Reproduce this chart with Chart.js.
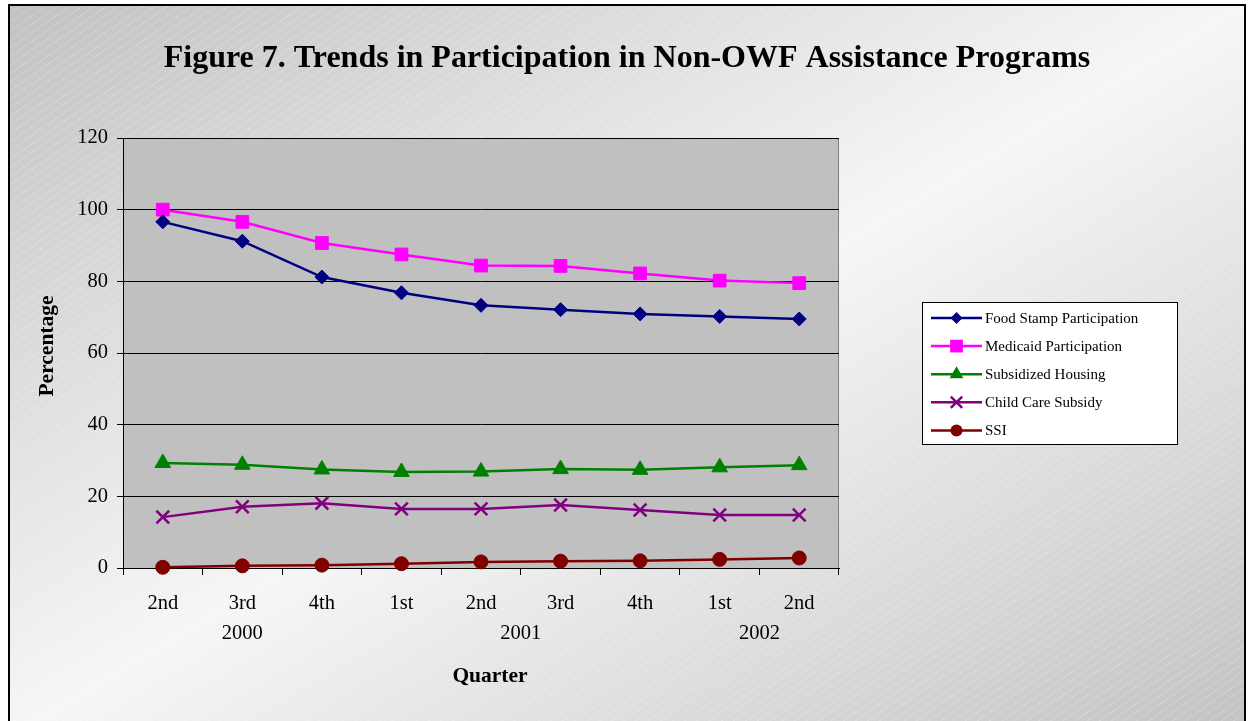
<!DOCTYPE html>
<html>
<head>
<meta charset="utf-8">
<script src="https://cdn.jsdelivr.net/npm/chart.js@4/dist/chart.umd.min.js"></script>
<style>
  html, body { margin: 0; padding: 0; width: 1248px; height: 721px; overflow: hidden; background: #ffffff; }
  #frame {
    position: absolute; left: 8px; top: 4px; width: 1234px; height: 730px;
    border: 2px solid #000;
    background:
      repeating-linear-gradient(145deg, rgba(255,255,255,0) 0px, rgba(255,255,255,0) 6px, rgba(255,255,255,0.18) 6px, rgba(255,255,255,0.18) 7px),
      linear-gradient(to bottom right, #c2c2c2 0%, #f6f6f6 50%, #c2c2c2 100%);
  }
  #chart { position: absolute; left: 0; top: 0; }
</style>
</head>
<body>
<div id="frame"></div>
<canvas id="chart" width="1248" height="721"></canvas>
<script>
// Quarterly participation rates (%) by program
const quarters = ['2nd', '3rd', '4th', '1st', '2nd', '3rd', '4th', '1st', '2nd'];
const years = ['2000', '2001', '2002'];
const quartersPerYear = [3, 4, 2];
const yTicks = [0, 20, 40, 60, 80, 100, 120];

const foodStamp = [96.6, 91.2, 81.2, 76.8, 73.3, 72.1, 70.9, 70.2, 69.5];
const medicaid  = [100.0, 96.6, 90.7, 87.5, 84.4, 84.3, 82.2, 80.2, 79.5];
const housing   = [29.3, 28.8, 27.5, 26.8, 26.9, 27.6, 27.4, 28.1, 28.7];
const childCare = [14.2, 17.1, 18.1, 16.5, 16.5, 17.6, 16.2, 14.8, 14.8];
const ssi       = [0.2, 0.6, 0.8, 1.2, 1.7, 1.9, 2.0, 2.4, 2.8];

const titleText = 'Figure 7. Trends in Participation in Non-OWF Assistance Programs';
const yTitle = 'Percentage';
const xTitle = 'Quarter';

const SERIF = "'Liberation Serif', 'Times New Roman', serif";

function series(label, data, color, shape, radius) {
  return {
    label, data,
    borderColor: color, backgroundColor: color,
    pointStyle: shape, pointRadius: radius, pointHoverRadius: radius,
    pointBorderColor: color, pointBackgroundColor: color,
    pointBorderWidth: shape === 'crossRot' ? 2.5 : 1,
    borderWidth: 2.5, tension: 0, fill: false, clip: false
  };
}

const datasets = [
  series('Food Stamp Participation', foodStamp, '#000080', 'rectRot', 7),
  series('Medicaid Participation', medicaid, '#FF00FF', 'rect', 9),
  series('Subsidized Housing', housing, '#008000', 'triangle', 9),
  series('Child Care Subsidy', childCare, '#800080', 'crossRot', 9),
  series('SSI', ssi, '#800000', 'circle', 7)
];

function marker(ctx, shape, x, y, r, color) {
  ctx.save();
  ctx.fillStyle = color; ctx.strokeStyle = color;
  ctx.beginPath();
  if (shape === 'rectRot') {
    ctx.moveTo(x, y - r); ctx.lineTo(x + r, y); ctx.lineTo(x, y + r); ctx.lineTo(x - r, y); ctx.closePath(); ctx.fill();
  } else if (shape === 'rect') {
    const s = r * Math.SQRT1_2;
    ctx.rect(x - s, y - s, 2 * s, 2 * s); ctx.fill();
  } else if (shape === 'triangle') {
    ctx.moveTo(x, y - r); ctx.lineTo(x + r * 0.866, y + r * 0.5); ctx.lineTo(x - r * 0.866, y + r * 0.5); ctx.closePath(); ctx.fill();
  } else if (shape === 'crossRot') {
    const s = r * Math.SQRT1_2;
    ctx.lineWidth = 2.5;
    ctx.moveTo(x - s, y - s); ctx.lineTo(x + s, y + s);
    ctx.moveTo(x + s, y - s); ctx.lineTo(x - s, y + s); ctx.stroke();
  } else {
    ctx.arc(x, y, r, 0, Math.PI * 2); ctx.fill();
  }
  ctx.restore();
}

const decorations = {
  id: 'decorations',
  beforeDraw(chart) {
    const { ctx, chartArea: a } = chart;
    ctx.save();
    ctx.fillStyle = '#C0C0C0';
    ctx.fillRect(a.left, a.top, a.right - a.left, a.bottom - a.top);
    ctx.strokeStyle = '#808080';
    ctx.lineWidth = 1;
    ctx.strokeRect(a.left + 0.5, a.top + 0.5, a.right - a.left - 1, a.bottom - a.top);
    ctx.restore();
  },
  afterDraw(chart) {
    const { ctx, chartArea: a } = chart;
    const xs = chart.scales.x;
    ctx.save();
    ctx.fillStyle = '#000';
    ctx.textAlign = 'center';

    // title
    ctx.textBaseline = 'alphabetic';
    ctx.font = 'bold 32px ' + SERIF;
    ctx.fillText(titleText, 627, 67);

    ctx.textBaseline = 'middle';
    // axis titles
    ctx.font = 'bold 21.5px ' + SERIF;
    ctx.fillText(xTitle, 490, 676);
    ctx.save();
    ctx.translate(47, 346);
    ctx.rotate(-Math.PI / 2);
    ctx.fillText(yTitle, 0, 0);
    ctx.restore();

    // year group labels under the quarters
    ctx.font = '20.5px ' + SERIF;
    let start = 0;
    years.forEach((yr, i) => {
      const end = start + quartersPerYear[i] - 1;
      const cx = (xs.getPixelForValue(start) + xs.getPixelForValue(end)) / 2;
      ctx.fillText(yr, cx, 634);
      start = end + 1;
    });

    // legend
    const lx = 922, ly = 302, lw = 255, lh = 142;
    ctx.fillStyle = '#ffffff';
    ctx.fillRect(lx, ly, lw, lh);
    ctx.strokeStyle = '#000';
    ctx.lineWidth = 1;
    ctx.strokeRect(lx + 0.5, ly + 0.5, lw, lh);
    ctx.font = '15px ' + SERIF;
    ctx.textAlign = 'left';
    chart.data.datasets.forEach((ds, i) => {
      const y = 318 + i * 28.1;
      ctx.strokeStyle = ds.borderColor;
      ctx.lineWidth = 2.5;
      ctx.beginPath();
      ctx.moveTo(931, y); ctx.lineTo(982, y);
      ctx.stroke();
      const r = ds.pointStyle === 'rect' ? 9 : ds.pointStyle === 'triangle' ? 8 : ds.pointStyle === 'crossRot' ? 8 : 6;
      marker(ctx, ds.pointStyle, 956.5, y, r, ds.borderColor);
      ctx.fillStyle = '#000';
      ctx.fillText(ds.label, 985, y + 1);
    });
    ctx.restore();
  }
};

new Chart(document.getElementById('chart'), {
  type: 'line',
  data: { labels: quarters, datasets },
  options: {
    responsive: false,
    animation: false,
    events: [],
    layout: { padding: { left: 0, top: 138, right: 409, bottom: 0 } },
    plugins: { legend: { display: false }, title: { display: false }, tooltip: { enabled: false } },
    scales: {
      x: {
        offset: true,
        afterFit(scale) { scale.height = 153; },
        grid: { display: true, offset: true, drawOnChartArea: false, drawTicks: true, tickLength: 7, color: '#000', lineWidth: 1 },
        border: { display: true, color: '#000', width: 1 },
        ticks: { color: '#000', font: { family: SERIF, size: 20.5 }, padding: 16, maxRotation: 0, autoSkip: false }
      },
      y: {
        min: yTicks[0], max: yTicks[yTicks.length - 1],
        afterFit(scale) { scale.width = 123; },
        afterBuildTicks(scale) { scale.ticks = yTicks.map(v => ({ value: v })); },
        grid: { display: true, drawOnChartArea: true, drawTicks: true, tickLength: 6, color: '#000', lineWidth: 1 },
        border: { display: true, color: '#000', width: 1 },
        ticks: { color: '#000', font: { family: SERIF, size: 20.5 }, padding: 9 }
      }
    }
  },
  plugins: [decorations]
});
</script>
</body>
</html>
